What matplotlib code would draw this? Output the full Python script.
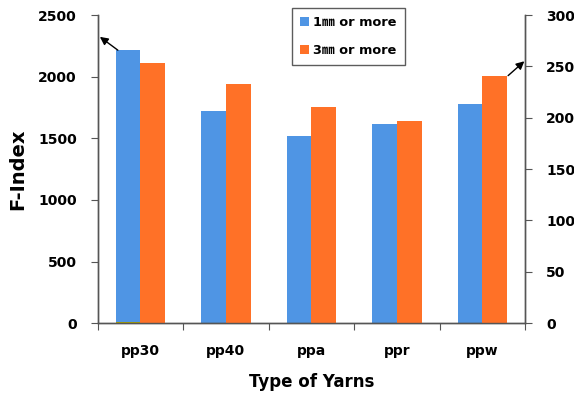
import numpy as np
import matplotlib
matplotlib.use("Agg")
import matplotlib.pyplot as plt

plt.rcParams['font.family'] = ['DejaVu Sans', 'Noto Sans CJK KR']

# data
yarns = ['pp30', 'pp40', 'ppa', 'ppr', 'ppw']
f_index_1mm = [2215, 1720, 1520, 1615, 1780]   # left axis
f_index_3mm = [253, 233, 210, 197, 241]        # right axis
base_line = [12, 0, 0, 0, 0]                   # tiny olive mark under pp30

blue = '#4F95E4'
orange = '#FF7127'
spine_col = '#555555'

fig = plt.figure(figsize=(5.74, 3.96), dpi=100)
ax = fig.add_axes([0.170, 0.184, 0.745, 0.778])
ax2 = ax.twinx()

x = np.arange(len(yarns))
w = 0.29

ax.bar(x - w / 2, f_index_1mm, w, color=blue, label='1\u339c or more', zorder=2)
ax.bar(x - w / 2, base_line, w, color='#A8A000', zorder=3)
ax2.bar(x + w / 2, f_index_3mm, w, color=orange, label='3\u339c or more', zorder=2)

ax.set_xlim(-0.5, 4.5)
ax.set_ylim(0, 2500)
ax2.set_ylim(0, 300)
ax.set_yticks(np.arange(0, 2501, 500))
ax2.set_yticks(np.arange(0, 301, 50))

# category ticks between groups, labels at the centres
ax.set_xticks(np.arange(-0.5, 5, 1))
ax.set_xticklabels([])
ax.set_xticks(x, minor=True)
ax.set_xticklabels(yarns, minor=True, fontsize=10, fontweight='bold')
ax.tick_params(axis='x', which='minor', length=0, pad=15)
ax.tick_params(axis='x', which='major', length=5, direction='out', color=spine_col)

for a in (ax, ax2):
    a.spines['top'].set_visible(False)
    for s in ('left', 'right', 'bottom'):
        a.spines[s].set_color(spine_col)
        a.spines[s].set_linewidth(1.0)
    a.tick_params(axis='y', length=5, direction='out', color=spine_col,
                  labelsize=10, pad=10)
    for lbl in a.get_yticklabels():
        lbl.set_fontweight('bold')

ax.set_ylabel('F-Index', fontsize=14, fontweight='bold', labelpad=8)
ax.set_xlabel('Type of Yarns', fontsize=12, fontweight='bold', labelpad=11)

# arrows pointing to the axis each series is read on
ax.annotate('', xy=(-0.473, 2323), xytext=(-0.263, 2215),
            arrowprops=dict(arrowstyle='-|>', color='black', lw=1.0,
                            mutation_scale=12, shrinkA=0, shrinkB=0))
ax2.annotate('', xy=(4.49, 255), xytext=(4.30, 241),
             arrowprops=dict(arrowstyle='-|>', color='black', lw=1.0,
                             mutation_scale=12, shrinkA=0, shrinkB=0),
             annotation_clip=False)

h1, l1 = ax.get_legend_handles_labels()
h2, l2 = ax2.get_legend_handles_labels()
leg = ax2.legend(h1 + h2, l1 + l2, loc='upper left',
                 bbox_to_anchor=(292 / 574, 1 - 8 / 396), bbox_transform=fig.transFigure,
                 prop={'size': 9.3, 'weight': 'bold'}, frameon=True, fancybox=False,
                 edgecolor='#333333', handlelength=0.75, handleheight=0.75,
                 handletextpad=0.3, labelspacing=1.2, borderpad=0.6,
                 borderaxespad=0)
leg.get_frame().set_linewidth(1.0)

fig.savefig('out.png', dpi=100)
